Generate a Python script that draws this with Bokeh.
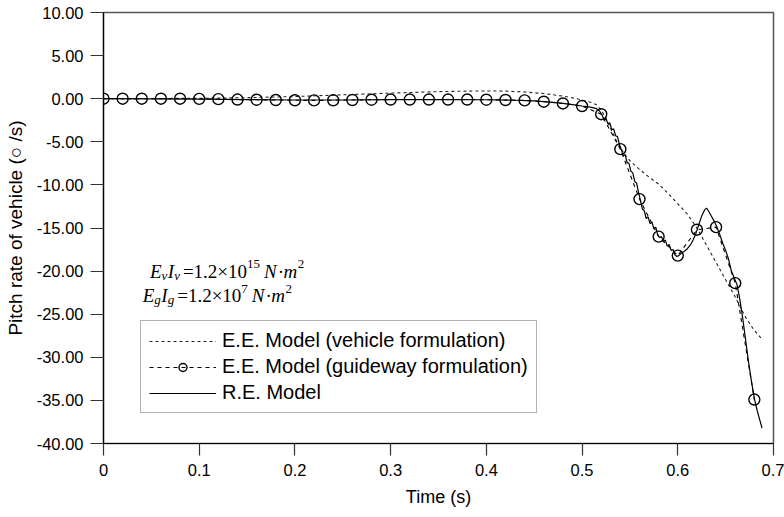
from bokeh.plotting import figure
from bokeh.models import (Range1d, FixedTicker, NumeralTickFormatter, Legend,
                          LegendItem, Label)
from bokeh.embed import file_html
from bokeh.resources import INLINE

# ---------------- data ----------------
x_ticks = [0.0, 0.1, 0.2, 0.3, 0.4, 0.5, 0.6, 0.7]
y_ticks = [-40, -35, -30, -25, -20, -15, -10, -5, 0, 5, 10]

# E.E. Model (vehicle formulation) - dotted line
t_vehicle = [0.00, 0.05, 0.10, 0.15, 0.20, 0.25, 0.30, 0.35, 0.38, 0.40,
             0.42, 0.44, 0.46, 0.48, 0.49, 0.50, 0.51, 0.515, 0.52, 0.525,
             0.53, 0.535, 0.54, 0.545, 0.55, 0.56, 0.57, 0.58, 0.59, 0.60,
             0.61, 0.62, 0.63, 0.64, 0.65, 0.66, 0.67, 0.68, 0.689]
pitch_vehicle = [0.0, 0.02, 0.05, 0.12, 0.25, 0.45, 0.65, 0.82, 0.88, 0.9,
                 0.88, 0.78, 0.6, 0.3, 0.1, -0.15, -0.45, -0.7, -1.3, -2.3,
                 -3.5, -4.7, -5.7, -6.5, -7.2, -8.2, -9.1, -9.9, -11.0, -12.2,
                 -13.4, -15.0, -17.0, -19.0, -21.0, -23.0, -25.2, -26.9, -28.0]

# E.E. Model (guideway formulation) - circles every 0.02 s
t_guideway = [0.00, 0.02, 0.04, 0.06, 0.08, 0.10, 0.12, 0.14, 0.16, 0.18,
              0.20, 0.22, 0.24, 0.26, 0.28, 0.30, 0.32, 0.34, 0.36, 0.38,
              0.40, 0.42, 0.44, 0.46, 0.48, 0.50, 0.52, 0.54, 0.56, 0.58,
              0.60, 0.62, 0.64, 0.66, 0.68]
pitch_guideway = [0.0, 0.0, 0.0, 0.0, 0.0, -0.02, -0.05, -0.1, -0.12, -0.15,
                  -0.18, -0.2, -0.18, -0.15, -0.12, -0.1, -0.1, -0.1, -0.1, -0.1,
                  -0.12, -0.15, -0.2, -0.35, -0.55, -0.85, -1.8, -5.85, -11.65, -16.0,
                  -18.2, -15.2, -14.9, -21.4, -34.9]

# R.E. Model - solid line
t_re = [0.00, 0.05, 0.10, 0.15, 0.20, 0.25, 0.30, 0.35, 0.40, 0.43,
        0.45, 0.47, 0.48, 0.49, 0.50, 0.505, 0.51, 0.515, 0.518, 0.521,
        0.523, 0.525, 0.527, 0.529, 0.531, 0.533, 0.535, 0.537, 0.539, 0.541,
        0.543, 0.545, 0.547, 0.549, 0.551, 0.553, 0.555, 0.557, 0.559, 0.561,
        0.563, 0.565, 0.567, 0.569, 0.571, 0.573, 0.575, 0.577, 0.579, 0.581,
        0.583, 0.585, 0.587, 0.589, 0.591, 0.593, 0.595, 0.597, 0.599, 0.601,
        0.604, 0.607, 0.610, 0.613, 0.616, 0.619, 0.622, 0.625, 0.628, 0.630,
        0.632, 0.635, 0.638, 0.641, 0.644, 0.647, 0.650, 0.653, 0.656, 0.659,
        0.662, 0.665, 0.668, 0.671, 0.674, 0.677, 0.680, 0.683, 0.686, 0.688]
pitch_re = [0.0, -0.02, -0.05, -0.1, -0.15, -0.15, -0.1, -0.1, -0.12, -0.18,
            -0.25, -0.42, -0.55, -0.68, -0.85, -0.92, -1.0, -1.15, -1.4, -1.9,
            -2.5, -2.3, -2.9, -2.8, -3.6, -3.5, -4.3, -4.4, -5.3, -5.9,
            -6.6, -6.5, -7.4, -7.5, -8.4, -8.6, -9.6, -9.8, -10.9, -11.8,
            -12.8, -13.0, -13.9, -13.7, -14.5, -14.3, -15.1, -14.9, -15.8, -16.1,
            -16.0, -16.6, -16.4, -17.1, -16.9, -17.6, -17.5, -18.1, -18.3, -18.2,
            -17.9, -17.7, -17.4, -17.0, -16.4, -15.6, -14.6, -13.6, -12.9, -12.7,
            -13.0, -13.6, -14.2, -14.9, -15.8, -16.8, -17.6, -18.6, -20.0, -20.8,
            -21.6, -23.4, -25.6, -28.1, -30.6, -32.8, -34.8, -36.2, -37.4, -38.2]

labels = ["E.E. Model (vehicle formulation)",
          "E.E. Model (guideway formulation)",
          "R.E. Model"]

SANS = "Liberation Sans"
SERIF = "Liberation Serif"

p = figure(width=784, height=517, output_backend="svg", toolbar_location=None,
           x_range=Range1d(0, 0.7), y_range=Range1d(-40, 10),
           min_border_left=103, min_border_right=11, min_border_top=12,
           min_border_bottom=74, background_fill_color="white",
           border_fill_color="white")
p.grid.visible = False
p.outline_line_color = "#555555"
p.outline_line_width = 1.5

for ax in (p.xaxis[0], p.yaxis[0]):
    ax.axis_line_color = "black"
    ax.axis_line_width = 1.2
    ax.major_tick_line_color = "#333333"
    ax.major_tick_line_width = 1.2
    ax.major_tick_in = 0
    ax.minor_tick_in = 0
    ax.minor_tick_out = 0
    ax.major_label_text_font = SANS
    ax.major_label_text_font_size = "16.5px"
    ax.major_label_text_color = "black"
    ax.axis_label_text_font = SANS
    ax.axis_label_text_font_style = "normal"
    ax.axis_label_text_color = "black"

p.xaxis.ticker = FixedTicker(ticks=x_ticks)
p.xaxis.formatter = NumeralTickFormatter(format="0.[0]")
p.xaxis.major_tick_out = 12
p.xaxis.major_label_standoff = 8
p.xaxis.axis_label = "Time (s)"
p.xaxis.axis_label_text_font_size = "18px"
p.xaxis.axis_label_standoff = 8

p.yaxis.ticker = FixedTicker(ticks=y_ticks)
p.yaxis.formatter = NumeralTickFormatter(format="0.00")
p.yaxis.major_tick_out = 13
p.yaxis.major_label_standoff = 7
p.yaxis.axis_label = "Pitch rate of vehicle (\u25cb /s)"
p.yaxis.axis_label_text_font_size = "19px"
p.yaxis.axis_label_standoff = 8

r_ve = p.line(t_vehicle, pitch_vehicle, line_color="#222222", line_width=1.1,
              line_dash="3 3")
r_gl = p.line(t_guideway, pitch_guideway, line_color="black", line_width=1.1,
              line_dash="4 4")
r_re = p.line(t_re, pitch_re, line_color="black", line_width=1.2)
r_gc = p.scatter(t_guideway, pitch_guideway, marker="circle", size=11,
                 line_color="black", line_width=1.4, fill_alpha=0)

legend = Legend(items=[LegendItem(label=labels[0], renderers=[r_ve]),
                       LegendItem(label=labels[1], renderers=[r_gl, r_gc]),
                       LegendItem(label=labels[2], renderers=[r_re])],
                location=(37, 30), glyph_width=67, glyph_height=20,
                label_height=20, label_standoff=6, padding=8, spacing=3,
                label_text_font=SANS, label_text_font_size="20px",
                label_text_color="black", border_line_color="#666666",
                border_line_width=1.2, background_fill_color="white",
                background_fill_alpha=1.0, margin=0)
p.add_layout(legend)

# ---- annotation with stiffness values (pieced together as real text) ----
W = {'E': 0.611, 'I': 0.333, 'v': 0.444, 'g': 0.5, 'N': 0.667, 'm': 0.722,
     '=': 0.564, '1': 0.5, '.': 0.25, '2': 0.5, '\u00d7': 0.564, '0': 0.5,
     '5': 0.5, '7': 0.5, '\u00b7': 0.25}


def math_line(x, y, pieces):
    cur = 0.0
    for txt, style, size, dy, gap in pieces:
        cur += gap
        p.add_layout(Label(x=x, y=y, x_offset=cur, y_offset=dy, text=txt,
                           text_font=SERIF, text_font_style=style,
                           text_font_size=f"{size}px", text_color="black",
                           text_baseline="alphabetic", text_align="left"))
        cur += sum(W.get(c, 0.5) for c in txt) * size


def stiffness_line(sub, exponent):
    return [("E", "italic", 19, 0, 0), (sub, "italic", 13, -4, 0),
            ("I", "italic", 19, 0, 0.5), (sub, "italic", 13, -4, 0),
            ("=1.2\u00d710", "normal", 19, 0, 3), (exponent, "normal", 13, 7, 0),
            ("N", "italic", 19, 0, 4), ("\u00b7", "normal", 19, 0, 1),
            ("m", "italic", 19, 0, 1), ("2", "normal", 13, 7, 0.5)]


math_line(0.0485, -20.0, stiffness_line("v", "15"))
math_line(0.041, -22.85, stiffness_line("g", "7"))

open("out.html", "w").write(file_html(p, INLINE))
